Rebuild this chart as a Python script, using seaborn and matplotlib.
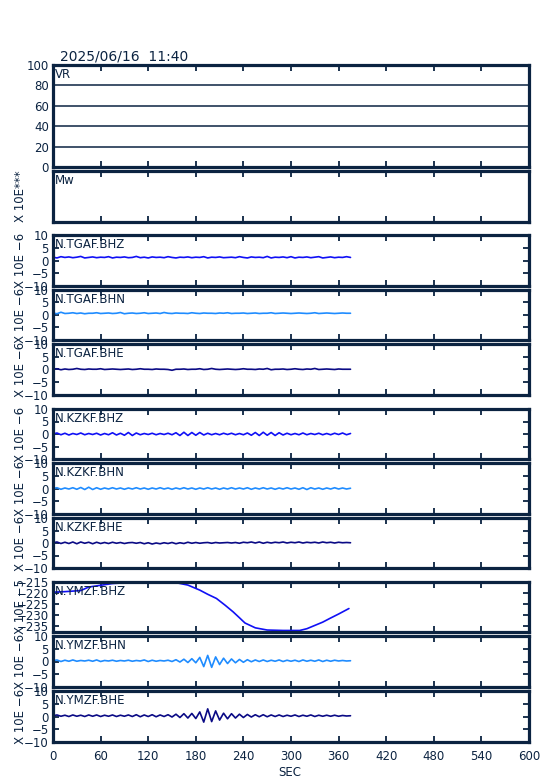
import numpy as np
import pandas as pd
import matplotlib
matplotlib.use("Agg")
import matplotlib.pyplot as plt
import seaborn as sns

# ---------------- data ----------------
title_text = "2025/06/16  11:40"
x_ticks = [0, 60, 120, 180, 240, 300, 360, 420, 480, 540, 600]
vr_ticks = [0, 20, 40, 60, 80, 100]
trace_ticks = [-10, -5, 0, 5, 10]
bhz_ymzf_ticks = [-235, -230, -225, -220, -215]

channel_names = ["N.TGAF.BHZ", "N.TGAF.BHN", "N.TGAF.BHE",
                 "N.KZKF.BHZ", "N.KZKF.BHN", "N.KZKF.BHE",
                 "N.YMZF.BHZ", "N.YMZF.BHN", "N.YMZF.BHE"]
unit_labels = ["X 10E \u22126", "X 10E \u22126", "X 10E \u22126",
               "X 10E \u22126", "X 10E \u22126", "X 10E \u22126",
               "X 10E \u22125", "X 10E \u22126", "X 10E \u22126"]

# sample interval of the noise traces (seconds)
dt = 5.0

tgaf_bhz = [1.3, 1.0, 1.5, 1.2, 1.4, 1.1, 1.3, 1.6, 1.0, 1.2,
            1.4, 1.1, 1.3, 1.2, 1.5, 1.0, 1.3, 1.2, 1.4, 1.1,
            1.2, 1.6, 1.1, 1.3, 1.0, 1.4, 1.2, 1.3, 1.1, 1.5,
            1.2, 1.0, 1.3, 1.2, 1.4, 1.1, 1.3, 1.2, 1.5, 1.0,
            1.3, 1.2, 1.4, 1.1, 1.2, 1.3, 1.1, 1.5, 1.2, 1.0,
            1.4, 1.2, 1.3, 1.1, 1.6, 1.0, 1.3, 1.2, 1.4, 1.1,
            1.5, 1.0, 1.3, 1.2, 1.4, 1.1, 1.3, 1.5, 1.0, 1.2,
            1.4, 1.1, 1.3, 1.2, 1.5, 1.2]
tgaf_bhn = [0.8, 0.5, 1.1, 0.6, 0.7, 0.9, 0.6, 0.8, 0.5, 0.7,
            0.7, 0.9, 0.6, 0.7, 0.8, 0.6, 0.7, 1.0, 0.5, 0.7,
            0.8, 0.6, 0.7, 0.9, 0.6, 0.7, 0.8, 0.6, 1.0, 0.7,
            0.6, 0.8, 0.7, 0.7, 0.6, 0.9, 0.7, 0.6, 0.8, 0.7,
            0.7, 0.6, 0.8, 0.7, 0.9, 0.6, 0.7, 0.7, 0.8, 0.6,
            0.7, 0.8, 0.6, 0.7, 0.7, 0.9, 0.6, 0.7, 0.8, 0.7,
            0.6, 0.7, 0.8, 0.7, 0.6, 0.7, 0.9, 0.6, 0.7, 0.8,
            0.7, 0.6, 0.7, 0.8, 0.7, 0.7]
tgaf_bhe = [0.1, 0.3, -0.1, 0.2, 0.0, 0.1, 0.4, 0.1, 0.0, 0.2,
            0.1, 0.1, 0.3, 0.0, 0.1, 0.2, 0.1, 0.0, 0.1, 0.2,
            0.0, 0.1, 0.3, 0.1, 0.1, 0.0, 0.2, 0.1, 0.1, 0.0,
            -0.3, 0.1, 0.1, 0.2, 0.0, 0.1, 0.1, 0.3, 0.0, 0.1,
            0.4, 0.1, 0.0, 0.1, 0.2, 0.1, 0.0, 0.1, 0.3, 0.1,
            0.1, 0.0, 0.2, 0.1, 0.4, -0.1, 0.1, 0.1, 0.2, 0.0,
            0.1, 0.3, 0.1, 0.0, 0.2, 0.1, 0.4, 0.0, 0.1, 0.2,
            0.1, 0.0, 0.2, 0.1, 0.1, 0.1]
kzkf_bhz = [0.0, 0.4, -0.3, 0.3, -0.4, 0.2, -0.2, 0.4, -0.3, 0.2,
            -0.2, 0.3, -0.4, 0.2, -0.3, 0.5, -0.4, 0.3, -0.5, 0.6,
            -0.6, 0.4, -0.3, 0.2, -0.2, 0.3, -0.3, 0.2, -0.2, 0.3,
            -0.3, 0.5, -0.6, 0.7, -0.6, 0.6, -0.5, 0.6, -0.4, 0.3,
            -0.3, 0.2, -0.3, 0.3, -0.2, 0.3, -0.3, 0.2, -0.3, 0.4,
            -0.5, 0.6, -0.6, 0.7, -0.5, 0.6, -0.6, 0.5, -0.4, 0.3,
            -0.3, 0.2, -0.3, 0.4, -0.3, 0.2, -0.2, 0.3, -0.3, 0.2,
            -0.3, 0.3, -0.2, 0.4, -0.3, 0.2]
kzkf_bhn = [0.0, 0.3, -0.3, 0.2, -0.2, 0.3, -0.3, 0.4, -0.4, 0.5,
            -0.4, 0.3, -0.3, 0.2, -0.2, 0.3, -0.2, 0.2, -0.3, 0.2,
            -0.2, 0.3, -0.2, 0.2, -0.3, 0.2, -0.2, 0.3, -0.2, 0.2,
            -0.3, 0.2, -0.2, 0.3, -0.2, 0.2, -0.3, 0.2, -0.2, 0.3,
            -0.2, 0.2, -0.3, 0.2, -0.2, 0.3, -0.2, 0.2, -0.2, 0.3,
            -0.3, 0.2, -0.2, 0.3, -0.2, 0.2, -0.3, 0.2, -0.2, 0.3,
            -0.2, 0.2, -0.3, 0.3, -0.4, 0.3, -0.2, 0.2, -0.3, 0.2,
            -0.2, 0.3, -0.2, 0.2, -0.2, 0.1]
kzkf_bhe = [0.1, 0.4, -0.2, 0.3, -0.2, 0.4, -0.3, 0.4, -0.1, 0.3,
            -0.3, 0.3, -0.2, 0.2, -0.2, 0.3, -0.1, 0.2, -0.2, 0.1,
            0.2, -0.1, 0.2, -0.3, 0.1, -0.4, 0.0, -0.3, 0.1, -0.2,
            0.2, -0.3, 0.1, -0.2, 0.3, -0.1, 0.2, -0.1, 0.1, 0.2,
            -0.1, 0.2, 0.0, 0.1, 0.2, 0.0, 0.2, -0.1, 0.3, 0.1,
            0.4, 0.0, 0.4, -0.1, 0.3, 0.0, 0.3, 0.1, 0.4, 0.0,
            0.3, 0.1, 0.4, 0.0, 0.3, 0.1, 0.3, 0.0, 0.4, 0.1,
            0.3, 0.0, 0.3, 0.1, 0.2, 0.1]
ymzf_bhn = [0.3, 0.6, 0.0, 0.5, 0.1, 0.6, 0.1, 0.4, 0.2, 0.5,
            0.1, 0.6, 0.0, 0.4, 0.2, 0.5, 0.1, 0.4, 0.2, 0.5,
            0.1, 0.4, 0.2, 0.6, 0.0, 0.5, 0.1, 0.4, 0.2, 0.5,
            0.0, 0.7, -0.2, 0.9, -0.4, 1.1, -0.5, 1.6, -2.0, 2.4,
            -2.3, 1.8, -1.2, 1.3, -0.8, 1.0, -0.5, 0.8, -0.3, 0.7,
            -0.1, 0.6, 0.0, 0.6, 0.0, 0.5, 0.1, 0.6, 0.0, 0.5,
            0.1, 0.5, 0.0, 0.6, 0.1, 0.5, 0.1, 0.6, 0.0, 0.5,
            0.1, 0.5, 0.2, 0.4, 0.2, 0.3]
ymzf_bhe = [0.3, 0.6, 0.1, 0.5, 0.0, 0.6, 0.1, 0.5, 0.0, 0.6,
            0.1, 0.6, 0.0, 0.5, 0.1, 0.6, 0.0, 0.5, 0.1, 0.6,
            0.0, 0.7, -0.1, 0.6, 0.0, 0.7, -0.1, 0.6, 0.0, 0.7,
            -0.2, 0.9, -0.4, 1.1, -0.6, 1.2, -0.8, 1.8, -2.2, 3.0,
            -2.0, 2.2, -1.4, 1.3, -0.9, 1.1, -0.6, 0.9, -0.4, 0.8,
            -0.2, 0.7, -0.1, 0.7, -0.1, 0.6, 0.0, 0.6, 0.0, 0.5,
            0.1, 0.6, 0.0, 0.5, 0.1, 0.6, 0.0, 0.5, 0.1, 0.5,
            0.1, 0.5, 0.1, 0.4, 0.2, 0.3]

# long-period YMZF.BHZ trace (time, value)
ymzf_bhz_t = [0, 1, 15, 35, 45, 60, 75, 100, 130, 155, 170, 185, 195, 206,
              217, 227, 235, 242, 255, 270, 290, 311, 320, 328, 340, 349, 360, 373]
ymzf_bhz_v = [-232.0, -219.5, -219.3, -218.8, -217.2, -216.4, -215.6, -215.1,
              -215.0, -215.2, -216.3, -218.6, -220.5, -222.4, -225.5, -228.5,
              -231.2, -233.6, -235.8, -236.8, -237.0, -237.0, -236.2, -235.0,
              -233.2, -231.5, -229.5, -227.0]

noise_traces = {"N.TGAF.BHZ": tgaf_bhz, "N.TGAF.BHN": tgaf_bhn, "N.TGAF.BHE": tgaf_bhe,
                "N.KZKF.BHZ": kzkf_bhz, "N.KZKF.BHN": kzkf_bhn, "N.KZKF.BHE": kzkf_bhe,
                "N.YMZF.BHN": ymzf_bhn, "N.YMZF.BHE": ymzf_bhe}

# ---------------- style ----------------
sns.set_style("white")
plt.rcParams["font.family"] = ["DejaVu Sans"]
FRAME = "#0b2341"
COLORS = {"BHZ": "#1010f5", "BHN": "#1f8cff", "BHE": "#0a0a85"}
FS = 8.5

W, H = 554, 781
fig = plt.figure(figsize=(W / 100, H / 100), dpi=100)
fig.patch.set_facecolor("white")

LEFT, RIGHT = 53, 529


def make_axes(top, bottom):
    return fig.add_axes([LEFT / W, 1 - bottom / H, (RIGHT - LEFT) / W, (bottom - top) / H])


def style_axes(ax, show_xlabels=False, yticks=None, lr_ticks=True):
    for sp in ax.spines.values():
        sp.set_color(FRAME)
        sp.set_linewidth(2.3)
        sp.set_visible(True)
    ax.set_facecolor("white")
    ax.set_xlim(0, 600)
    ax.set_xticks(x_ticks)
    ax.tick_params(axis="x", direction="in", length=4, width=1.3, color=FRAME,
                   top=True, bottom=True, labelbottom=show_xlabels, labeltop=False,
                   labelsize=FS, labelcolor=FRAME, pad=6)
    if yticks is None:
        ax.set_yticks([])
    else:
        ax.set_yticks(yticks)
    ax.tick_params(axis="y", direction="in", length=4, width=1.3, color=FRAME,
                   left=lr_ticks, right=lr_ticks, labelsize=FS, labelcolor=FRAME, pad=3)
    ax.set_xlabel("")
    ax.set_ylabel("")
    ax.grid(False)


def panel_label(ax, text):
    ax.annotate(text, xy=(0, 1), xycoords="axes fraction", xytext=(2, -3),
                textcoords="offset pixels", ha="left", va="top",
                fontsize=FS, color=FRAME)


def unit_label(top, bottom, text):
    fig.text(20 / W, 1 - (top + bottom) / 2 / H, text, rotation=90, ha="center",
             va="center", fontsize=FS, color=FRAME)


# VR panel
ax_vr = make_axes(65, 167)
ax_vr.set_ylim(0, 100)
style_axes(ax_vr, yticks=vr_ticks, lr_ticks=False)
for g in vr_ticks[1:-1]:
    ax_vr.axhline(g, color=FRAME, lw=1.1)
panel_label(ax_vr, "VR")

# Mw panel
ax_mw = make_axes(171, 222)
ax_mw.set_ylim(0, 1)
style_axes(ax_mw)
panel_label(ax_mw, "Mw")
unit_label(171, 222, "X 10E***")

panel_pos = [(235, 286), (290, 340), (344, 395),
             (409, 459), (463, 514), (518, 568),
             (582, 632), (636, 687), (691, 742)]

for i, (name, (top, bot)) in enumerate(zip(channel_names, panel_pos)):
    ax = make_axes(top, bot)
    comp = name.split(".")[-1]
    color = COLORS[comp]
    last = (i == len(channel_names) - 1)
    if name == "N.YMZF.BHZ":
        df = pd.DataFrame({"t": ymzf_bhz_t, "v": ymzf_bhz_v})
        sns.lineplot(data=df, x="t", y="v", ax=ax, color=color, lw=1.2,
                     estimator=None, sort=False)
        ax.set_ylim(-237.7, -214.9)
        style_axes(ax, yticks=bhz_ymzf_ticks)
    else:
        vals = noise_traces[name]
        df = pd.DataFrame({"t": np.arange(len(vals)) * dt, "v": vals})
        sns.lineplot(data=df, x="t", y="v", ax=ax, color=color, lw=1.2,
                     estimator=None, sort=False)
        ax.set_ylim(-10, 10)
        style_axes(ax, show_xlabels=last, yticks=trace_ticks)
    if last:
        ax.set_xticklabels([str(v) for v in x_ticks])
    panel_label(ax, name)
    unit_label(top, bot, unit_labels[i])

fig.text(60 / W, 1 - 57 / H, title_text, ha="left", va="center", fontsize=10, color=FRAME)
fig.text(290 / W, 1 - 773 / H, "SEC", ha="center", va="center", fontsize=FS, color=FRAME)

fig.savefig("out.png", dpi=100, facecolor="white")
